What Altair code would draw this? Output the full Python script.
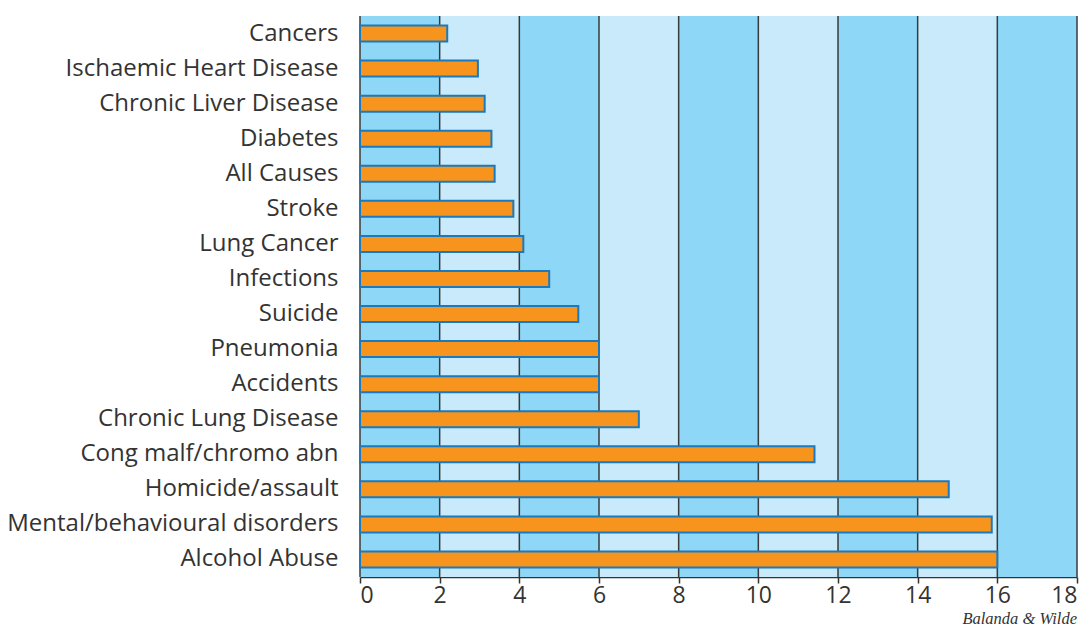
import altair as alt
import pandas as pd

categories = ["Cancers", "Ischaemic Heart Disease", "Chronic Liver Disease", "Diabetes",
              "All Causes", "Stroke", "Lung Cancer", "Infections", "Suicide", "Pneumonia",
              "Accidents", "Chronic Lung Disease", "Cong malf/chromo abn", "Homicide/assault",
              "Mental/behavioural disorders", "Alcohol Abuse"]
values = [2.19, 2.96, 3.13, 3.30, 3.38, 3.85, 4.10, 4.75, 5.48, 6.0,
          6.0, 7.0, 11.41, 14.78, 15.86, 16.0]

band_start = [0, 2, 4, 6, 8, 10, 12, 14, 16]
band_end = [2, 4, 6, 8, 10, 12, 14, 16, 18]
band_kind = ["dark", "light", "dark", "light", "dark", "light", "dark", "light", "dark"]
grid_x = [0, 2, 4, 6, 8, 10, 12, 14, 16, 18]
credit = "Balanda & Wilde"

df = pd.DataFrame({"cause": categories, "value": values})
bands = pd.DataFrame({"x": band_start, "x2": band_end, "kind": band_kind})
grid = pd.DataFrame({"x": grid_x})

W, H = 717, 561
xscale = alt.Scale(domain=[0, 18], nice=False, zero=True)
xaxis = alt.Axis(values=grid_x, title=None, grid=False, labelFontSize=23, labelColor="#333333",
                 labelFont="Open Sans", tickColor="#333333", tickSize=6, tickWidth=1.5,
                 domainColor="#333333", domainWidth=1.5, labelPadding=1)

bg = alt.Chart(bands).mark_rect().encode(
    x=alt.X("x:Q", scale=xscale, axis=xaxis),
    x2="x2:Q",
    color=alt.Color("kind:N", scale=alt.Scale(domain=["dark", "light"], range=["#8ed7f7", "#c8eafa"]), legend=None),
)

lines = alt.Chart(grid).mark_rule(color="#3a3a3a", strokeWidth=1.5).encode(
    x=alt.X("x:Q", scale=xscale),
)

bars = alt.Chart(df).mark_bar(color="#f7941d", stroke="#1b79bd", strokeWidth=2, size=16).encode(
    x=alt.X("value:Q", scale=xscale),
    y=alt.Y("cause:N", sort=categories,
            scale=alt.Scale(paddingInner=0, paddingOuter=0),
            axis=alt.Axis(title=None, ticks=False, domain=False, labelFontSize=24, labelColor="#333333",
                          labelFont="Open Sans", labelPadding=22, labelLimit=0)),
)

txt = alt.Chart(pd.DataFrame({"t": [credit]})).mark_text(
    align="right", baseline="middle", font="Liberation Serif", fontStyle="italic",
    fontSize=16.5, color="#333333"
).encode(text="t:N", x=alt.value(W), y=alt.value(H + 42))

chart = alt.layer(bg, lines, bars, txt).properties(
    width=W, height=H,
    autosize=alt.AutoSizeParams(type="none"),
    padding={"left": 360, "top": 16, "right": 12, "bottom": 50},
).configure_view(stroke=None)

chart.save("out.html", embed_options={"renderer": "svg", "actions": False})
